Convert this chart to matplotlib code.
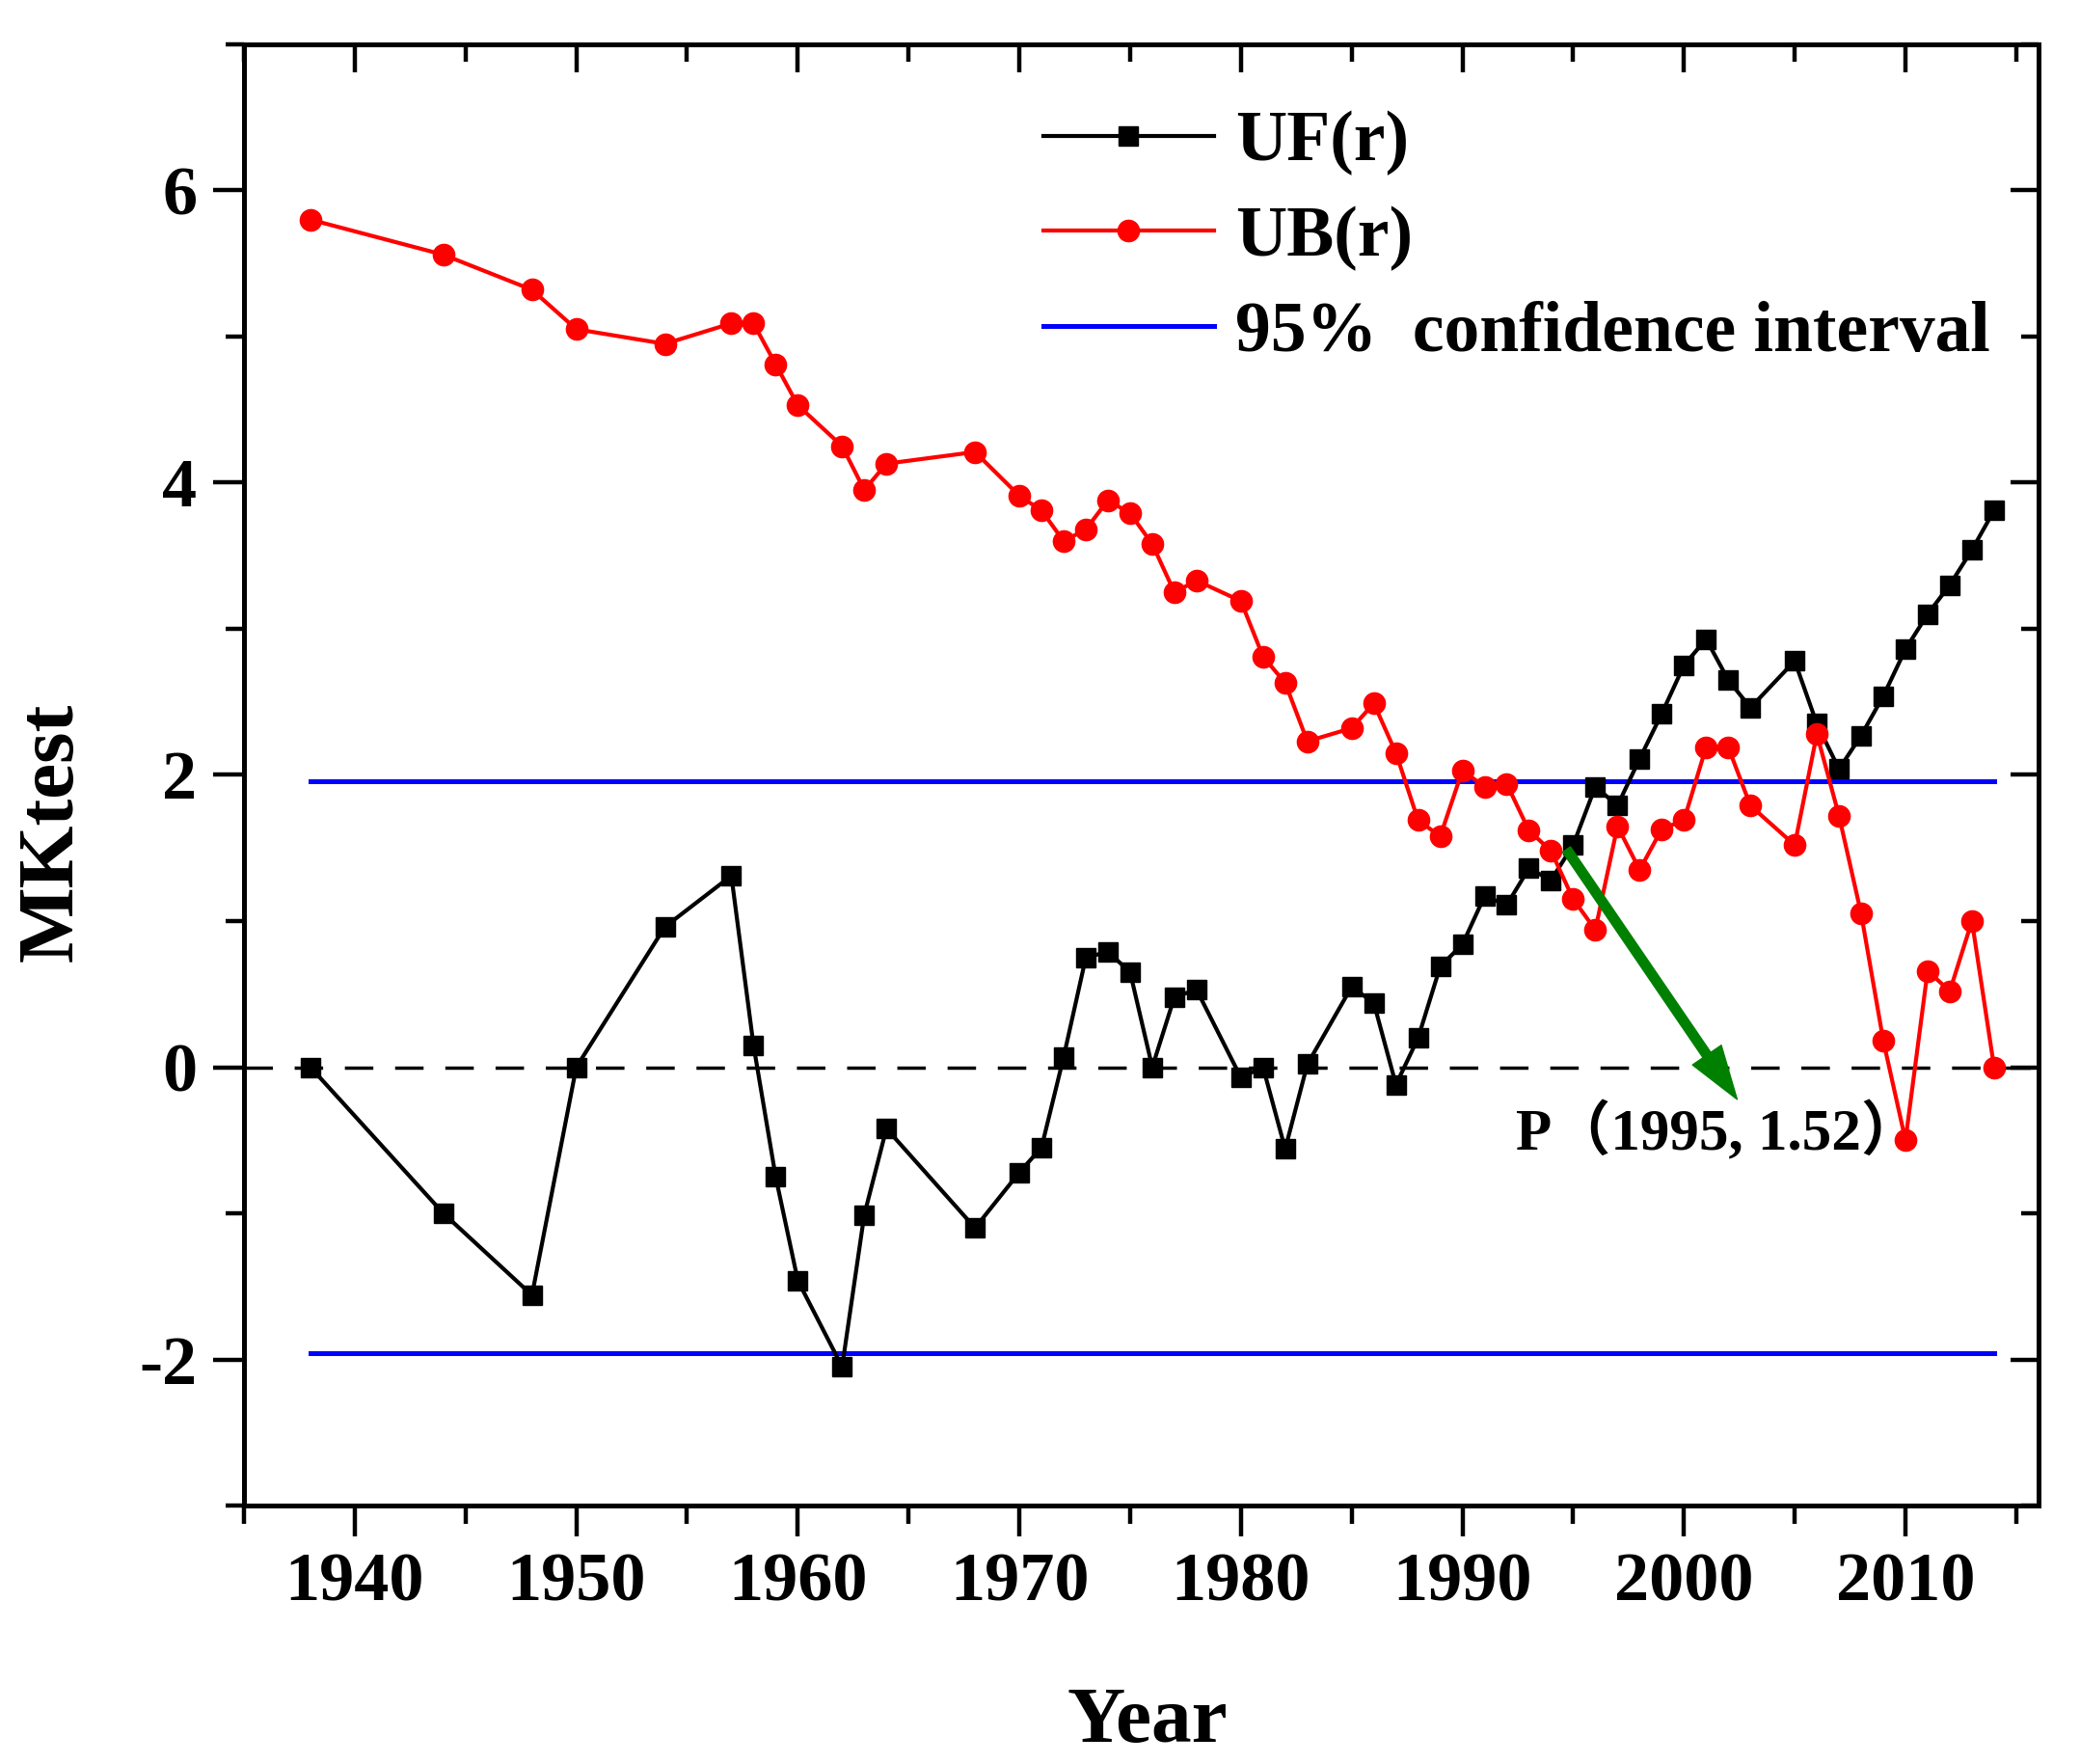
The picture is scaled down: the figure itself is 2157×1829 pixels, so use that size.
import numpy as np
import matplotlib
matplotlib.use("Agg")
import matplotlib.pyplot as plt
from matplotlib.ticker import MultipleLocator

# --- data ---
years = [1938, 1944, 1948, 1950, 1954, 1957, 1958, 1959, 1960, 1962, 1963, 1964,
         1968, 1970, 1971, 1972, 1973, 1974, 1975, 1976, 1977, 1978, 1980, 1981,
         1982, 1983, 1985, 1986, 1987, 1988, 1989, 1990, 1991, 1992, 1993, 1994,
         1995, 1996, 1997, 1998, 1999, 2000, 2001, 2002, 2003, 2005, 2006, 2007,
         2008, 2009, 2010, 2011, 2012, 2013, 2014]

uf = [0.00, -1.00, -1.56, 0.00, 0.96, 1.31, 0.15, -0.75, -1.46, -2.05, -1.01, -0.42,
      -1.10, -0.72, -0.55, 0.07, 0.75, 0.79, 0.65, 0.00, 0.48, 0.53, -0.07, 0.00,
      -0.56, 0.02, 0.55, 0.44, -0.12, 0.20, 0.69, 0.84, 1.17, 1.11, 1.36, 1.28,
      1.52, 1.92, 1.79, 2.11, 2.42, 2.75, 2.93, 2.65, 2.46, 2.78, 2.35, 2.04,
      2.27, 2.54, 2.86, 3.10, 3.30, 3.54, 3.81]

ub = [5.80, 5.56, 5.32, 5.05, 4.95, 5.09, 5.09, 4.81, 4.53, 4.25, 3.95, 4.13,
      4.21, 3.91, 3.81, 3.60, 3.68, 3.88, 3.79, 3.58, 3.25, 3.33, 3.19, 2.81,
      2.63, 2.23, 2.32, 2.49, 2.15, 1.69, 1.58, 2.03, 1.92, 1.94, 1.62, 1.48,
      1.15, 0.94, 1.65, 1.35, 1.63, 1.69, 2.19, 2.19, 1.79, 1.52, 2.28, 1.72,
      1.05, 0.18, -0.50, 0.66, 0.52, 1.00, 0.00]

conf_level = 1.96
point_p = (1995, 1.52)
arrow_tip = (2002.4, -0.22)

plt.rcParams['font.family'] = ['Liberation Serif', 'Noto Sans CJK SC']
plt.rcParams['font.weight'] = 'bold'
plt.rcParams['axes.unicode_minus'] = False

fig = plt.figure(figsize=(21.57, 18.29), dpi=100)
ax = fig.add_axes([0.1173, 0.1465, 0.8627, 0.8284])

ax.axhline(0, color='black', lw=2.5, linestyle=(0, (8.5, 6.5)), zorder=1)
ax.plot([years[0], years[-1]], [conf_level, conf_level], color='#0000ff', lw=3.6,
        label='95%  confidence interval', zorder=2)
ax.plot([years[0], years[-1]], [-conf_level, -conf_level], color='#0000ff', lw=3.6, zorder=2)
ax.plot(years, uf, color='black', lw=3.0, marker='s', markersize=15,
        label='UF(r)', zorder=3)
ax.plot(years, ub, color='#ff0000', lw=3.0, marker='o', markersize=16,
        label='UB(r)', zorder=4)

ax.annotate('', xy=arrow_tip, xytext=(point_p[0] - 0.3, point_p[1] - 0.03),
            arrowprops=dict(facecolor='#008000', edgecolor='#008000', width=7,
                            headwidth=26, headlength=40, shrink=0),
            zorder=5)
ax.text(1992.4, -0.45, 'P（1995, 1.52）', fontsize=44, fontweight='bold',
        ha='left', va='center', zorder=6)

ax.set_xlim(1935, 2016)
ax.set_ylim(-3, 7)
ax.xaxis.set_major_locator(MultipleLocator(10))
ax.xaxis.set_minor_locator(MultipleLocator(5))
ax.yaxis.set_major_locator(MultipleLocator(2))
ax.yaxis.set_minor_locator(MultipleLocator(1))
ax.tick_params(which='major', direction='out', length=23, width=3.2,
               labelsize=52, pad=12)
ax.tick_params(which='minor', direction='out', length=14, width=3.2)
for s in ax.spines.values():
    s.set_linewidth(3.6)

# top and right ticks point inward
top = ax.secondary_xaxis('top')
top.xaxis.set_major_locator(MultipleLocator(10))
top.xaxis.set_minor_locator(MultipleLocator(5))
top.tick_params(which='major', direction='in', length=21, width=3.2, labeltop=False)
top.tick_params(which='minor', direction='in', length=13, width=3.2)
top.spines['top'].set_linewidth(3.6)
right = ax.secondary_yaxis('right')
right.yaxis.set_major_locator(MultipleLocator(2))
right.yaxis.set_minor_locator(MultipleLocator(1))
right.tick_params(which='major', direction='in', length=21, width=3.2, labelright=False)
right.tick_params(which='minor', direction='in', length=13, width=3.2)
right.spines['right'].set_linewidth(3.6)

handles, labels = ax.get_legend_handles_labels()
order = [labels.index('UF(r)'), labels.index('UB(r)'), labels.index('95%  confidence interval')]
fig.legend([handles[i] for i in order], [labels[i] for i in order],
           loc='upper left', bbox_to_anchor=(0.5016, 0.9375), frameon=False,
           fontsize=53, handlelength=2.4, handletextpad=0.3, labelspacing=0.42,
           borderpad=0, borderaxespad=0, numpoints=1)

fig.text(0.5517, 0.0126, 'Year', fontsize=60, fontweight='bold', ha='center', va='baseline')
fig.text(0.0255, 0.528, 'MKtest', fontsize=60, fontweight='bold', rotation=90,
         ha='center', va='center')

fig.savefig('out.png', dpi=100, facecolor='white')
